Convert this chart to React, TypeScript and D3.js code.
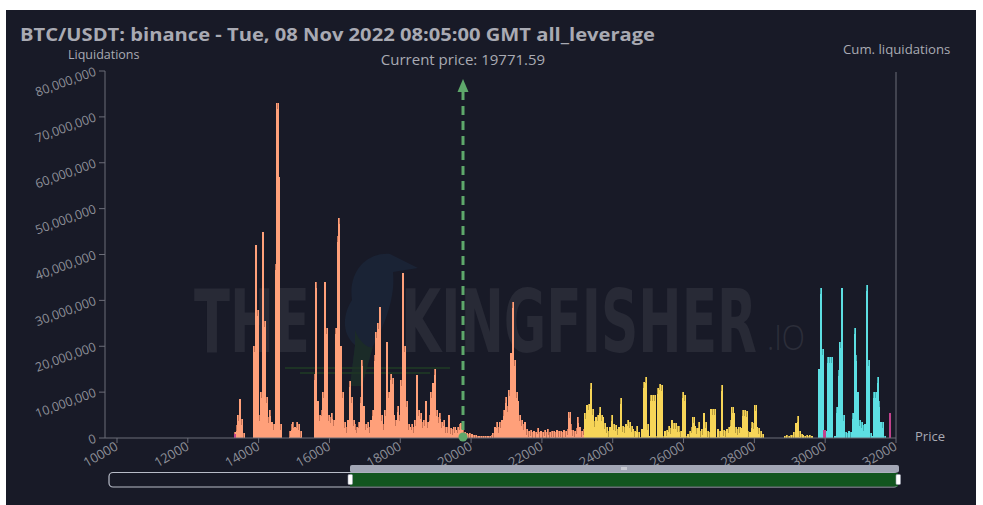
import React from 'react';
import * as d3 from 'd3';

// liquidations per 50 USD price bucket, in millions of USDT
const BIN = 50;

const orangeStart = 13250;
const orangeValues = [
  0, 1.2, 2.8, 5.0, 8.6, 4.2, 1.0, 0, 0, 0,
  0, 0, 20, 42, 28, 5, 10, 45, 25.5, 9,
  4.5, 6, 3.5, 3, 38, 73, 57, 3, 0, 0,
  0, 0, 1.5, 3, 3.5, 2.5, 3.5, 3, 1.5, 0,
  0, 0, 0, 0, 0, 0, 14, 34, 8, 5,
  6, 10, 34, 24, 5, 4.5, 5.5, 4, 24, 44,
  48, 20, 10, 3.5, 2.5, 4, 12.4, 9, 4, 3,
  2.5, 3.5, 9, 17, 7, 3, 3.5, 2.5, 4, 6,
  18, 23, 25, 28.5, 5, 3, 6, 21, 10, 14,
  13, 5, 4, 7, 5, 12.6, 36, 20, 8, 3,
  2.5, 3, 2.5, 4, 13.7, 6, 5.5, 3.5, 4, 8,
  3.5, 5, 10, 12, 15, 6, 4.5, 5.4, 3.5, 4,
  2.4, 2.5, 5, 2.2, 2.0, 2.4, 1.8, 2.5, 3, 3.2,
  2.5, 1.2, 1, 0.8, 1, 0.8, 0.7, 0.6, 0.4, 0.4,
  0.35, 0.4, 0.35, 0.4, 0.5, 0.4, 0.6, 1, 2.5, 3.5,
  2.5, 3.5, 4, 6, 9, 7, 10.5, 18.5, 29.6, 17,
  10, 8, 5, 4, 3, 3.5, 2, 1.5, 1.8, 1.2,
  1.5, 1.2, 2.2, 1.3, 1.5, 1.2, 1.8, 1.4, 2, 1.3,
  1.5, 1.5, 1.2, 1.8, 1.5, 1.5, 1.3, 1.8, 1.5, 2,
  5.6, 3, 1.8, 1.5, 2.2, 4.5, 2.5, 1.6, 2,
];

const yellowStart = 23200;
const yellowValues = [
  5.4, 7.2, 7.5, 12, 6.3, 3.7, 4.5, 5, 6.8, 5,
  4.5, 3.3, 2.5, 1.5, 2.5, 5, 3, 2.8, 2, 2.5,
  8.7, 2.6, 2.5, 3, 3.9, 3.5, 2.6, 2, 1.5, 2.6,
  1.2, 0.3, 2, 12.2, 13.3, 3, 0.5, 9.3, 9.3, 9.3,
  0.5, 11, 11.8, 11.5, 0.5, 1.5, 1.8, 2.6, 2.2, 3.9,
  3.3, 3.3, 2.6, 2.6, 1.5, 10, 9.4, 0.5, 0.8, 1.5,
  2.5, 4.5, 2.6, 2.2, 3.5, 1.5, 2, 5.4, 3.5, 1.5,
  1.2, 6.3, 6.3, 6.3, 0.3, 2, 1.5, 11.5, 1.8, 1.5,
  2, 2.5, 4, 6.8, 5.4, 2.5, 2, 2.3, 2.2, 6.1,
  6.1, 5.8, 1.5, 1.2, 3.5, 3.2, 7.2, 2.5, 2.2, 1.5,
  0.8, 0, 0, 0, 0, 0, 0, 0, 0, 0,
  0, 0, 0, 0.5, 0.6, 0.5, 0.7, 0.6, 1.2, 3.3,
  4.8, 1.5, 0.8, 0.6, 0.5, 0.6, 0.5, 0.6, 0.5,
];

const cyanStart = 29800;
const cyanValues = [
  15, 32.7, 19.5, 0, 1.5, 17.6, 17.6, 17.6, 0, 0.5,
  6.8, 14.8, 21, 32.7, 5, 1.2, 1, 1.5, 1.2, 5.4,
  24, 18, 10, 4, 3.4, 2.8, 3, 33.3, 17, 1,
  0.5, 10, 10, 13.3, 8, 3.4, 3.4, 0.5,
];

const magentaPrices = [13300, 29950, 31800];
const magentaValues = [0.8, 1.7, 5.4];

const xTicks = [10000, 12000, 14000, 16000, 18000, 20000, 22000, 24000, 26000, 28000, 30000, 32000];
const yTicks = [0, 10e6, 20e6, 30e6, 40e6, 50e6, 60e6, 70e6, 80e6];
const currentPrice = 19771.59;

const W = 983;
const H = 505;
const font = '"Open Sans", "Noto Sans", sans-serif';
const markFont = '"DejaVu Sans Condensed", "DejaVu Sans", sans-serif';

export default function App() {
  const x = d3.scaleLinear().domain([9661, 32000]).range([105, 896]);
  const y = d3.scaleLinear().domain([0, 80e6]).range([438, 71]);
  const fmt = d3.format(',');

  const series = [
    { start: orangeStart, values: orangeValues, fill: '#ffa07a', top: '#b5684f' },
    { start: yellowStart, values: yellowValues, fill: '#f7d558', top: '#a88f3a' },
    { start: cyanStart, values: cyanValues, fill: '#5ddfe3', top: '#3a9ea2' },
  ];

  const bars: { px: number; v: number; fill: string; top: string }[] = [];
  series.forEach(s =>
    s.values.forEach((v, i) => {
      if (v > 0) bars.push({ px: s.start + i * BIN, v: v * 1e6, fill: s.fill, top: s.top });
    })
  );
  magentaPrices.forEach((p, i) => bars.push({ px: p, v: magentaValues[i] * 1e6, fill: '#c2418c', top: '#c2418c' }));

  const cx = x(currentPrice);
  const axisColor = '#6b6d78';
  const labelColor = '#8e9099';
  const textColor = '#a9aab3';
  const sx = 0.66; // horizontal squeeze of the watermark letters

  return (
    <svg width={W} height={H} style={{ position: 'absolute', left: 0, top: 0 }} fontFamily={font}>
      <rect x={0} y={0} width={W} height={H} fill="#ffffff" />
      <rect x={6} y={10} width={970} height={495} fill="#181a27" />

      {/* watermark */}
      <g fill="#282a36" fontFamily={markFont} fontWeight={700} fontSize={88}>
        <text transform={`translate(194,352) scale(${sx},1)`} textLength={116 / sx} lengthAdjust="spacingAndGlyphs">THE</text>
        <text transform={`translate(401,352) scale(${sx},1)`} textLength={356 / sx} lengthAdjust="spacingAndGlyphs">KINGFISHER</text>
      </g>
      <text x={767} y={350} fontSize={34} fontWeight={300} fill="#2c2e3a" textLength={38} lengthAdjust="spacingAndGlyphs">.IO</text>
      <path d="M352 300 C348 272 366 252 390 254 L418 268 L393 272 C396 300 382 330 373 346 L362 386 L350 386 L355 345 C340 332 344 312 352 300 Z"
        fill="#1a2335" />
      <path d="M355 330 C360 345 372 350 373 346 L362 386 L350 386 L355 345 Z" fill="#1b2b28" />
      <g stroke="#1d3325" strokeWidth={2}>
        <line x1={285} y1={368} x2={450} y2={368} />
        <line x1={300} y1={373} x2={430} y2={373} />
      </g>

      {/* bars */}
      <g shapeRendering="crispEdges">
        {bars.map((b, i) => {
          const bx = x(b.px);
          const bw = x(b.px + BIN) - bx;
          return (
            <g key={i}>
              <rect x={bx} y={y(b.v)} width={bw + 0.4} height={y(0) - y(b.v)} fill={b.fill} />
              <rect x={bx + bw / 2 - 0.4} y={y(b.v)} width={0.8} height={Math.min(6, y(0) - y(b.v))} fill={b.top} opacity={0.8} />
            </g>
          );
        })}
      </g>

      {/* axes */}
      <line x1={105} y1={71} x2={105} y2={438} stroke={axisColor} />
      <line x1={105} y1={438} x2={896} y2={438} stroke={axisColor} />
      <line x1={896} y1={72} x2={896} y2={438} stroke={axisColor} />
      {yTicks.map(t => (
        <g key={t}>
          <line x1={99} y1={y(t)} x2={105} y2={y(t)} stroke={axisColor} />
          <text transform={`translate(97,${y(t) + 4}) rotate(-20)`} textAnchor="end" fontSize={12.5} fill={labelColor}>
            {fmt(t)}
          </text>
        </g>
      ))}
      {xTicks.map(t => (
        <g key={t}>
          <line x1={x(t)} y1={438} x2={x(t)} y2={443} stroke={axisColor} />
          <text transform={`translate(${x(t) + 2},${449}) rotate(-30)`} textAnchor="end" fontSize={13} fill={labelColor}>
            {t}
          </text>
        </g>
      ))}

      {/* current price marker */}
      <line x1={cx} y1={91} x2={cx} y2={436} stroke="#5ea86b" strokeWidth={3} strokeDasharray="9 6" />
      <path d={`M${cx} 79 L${cx - 5.5} 92 L${cx + 5.5} 92 Z`} fill="#5ea86b" />
      <circle cx={cx} cy={437} r={4.5} fill="#5ea86b" />

      {/* labels */}
      <text x={20} y={41} fontSize={18} fontWeight={700} fill={textColor} textLength={635} lengthAdjust="spacingAndGlyphs">
        BTC/USDT: binance - Tue, 08 Nov 2022 08:05:00 GMT all_leverage
      </text>
      <text x={68} y={59} fontSize={12.5} fill={textColor}>Liquidations</text>
      <text x={cx} y={65} fontSize={15} fill={textColor} textAnchor="middle">Current price: 19771.59</text>
      <text x={843} y={54} fontSize={13.2} fill={textColor}>Cum. liquidations</text>
      <text x={915} y={441} fontSize={13} fill={textColor}>Price</text>

      {/* navigator */}
      <rect x={109} y={472.5} width={789} height={14.5} rx={4} fill="#181a27" stroke="#b8bcc8" strokeWidth={1.2} />
      <rect x={350} y={473} width={548} height={13.5} fill="#12561f" />
      <rect x={350} y={465} width={549} height={7.5} rx={2} fill="#a2a6b5" />
      <g stroke="#ffffff" strokeWidth={0.8}>
        <line x1={622} y1={467} x2={622} y2={470} />
        <line x1={624} y1={467} x2={624} y2={470} />
        <line x1={626} y1={467} x2={626} y2={470} />
      </g>
      <rect x={348} y={474.5} width={4.5} height={10} rx={1} fill="#ffffff" stroke="#9aa0ae" strokeWidth={0.6} />
      <rect x={896} y={474.5} width={4.5} height={10} rx={1} fill="#ffffff" stroke="#9aa0ae" strokeWidth={0.6} />
    </svg>
  );
}
